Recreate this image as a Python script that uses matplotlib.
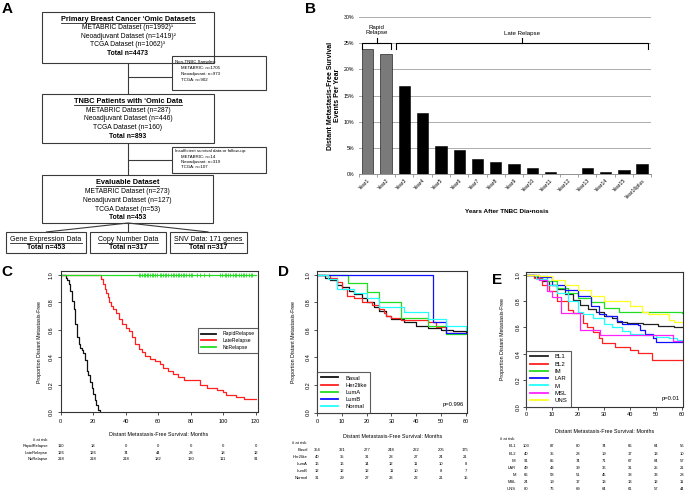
import matplotlib
matplotlib.use("Agg")
import matplotlib.pyplot as plt
from matplotlib.transforms import blended_transform_factory
from matplotlib.ticker import FuncFormatter, FixedLocator

W, H = 685, 491
plt.rcParams['font.family'] = ['Liberation Sans', 'DejaVu Sans']

# ---------------- panel B data
years = ['Year1', 'Year2', 'Year3', 'Year4', 'Year5', 'Year6', 'Year7', 'Year8',
         'Year9', 'Year10', 'Year11', 'Year12', 'Year13', 'Year14', 'Year15', 'Year16plus']
events_pct = [23.8, 22.9, 16.9, 11.7, 5.4, 4.5, 2.8, 2.35, 1.95, 1.15, 0.35, 0.0,
              1.15, 0.4, 0.75, 2.0]
rapid_years = 2

# ---------------- panel C data (time in months, survival)
c_rapid_t = [0, 3, 4, 5, 6, 7, 8, 9, 10, 11, 12, 13, 14, 15, 16, 17, 18, 19, 20, 21, 22, 23, 24]
c_rapid_s = [1.0, 0.98, 0.96, 0.93, 0.88, 0.81, 0.75, 0.64, 0.55, 0.50, 0.47, 0.45, 0.43,
             0.38, 0.30, 0.27, 0.22, 0.18, 0.13, 0.09, 0.05, 0.02, 0.0]
c_late_t = [0, 25, 26, 27, 28, 29, 30, 31, 32, 34, 36, 38, 40, 42, 44, 46, 48, 50, 52, 55,
            58, 61, 63, 66, 69, 72, 76, 86, 90, 96, 100, 102, 108, 113, 120]
c_late_s = [1.0, 0.97, 0.93, 0.90, 0.87, 0.84, 0.80, 0.77, 0.75, 0.72, 0.68, 0.64, 0.61,
            0.59, 0.55, 0.50, 0.46, 0.44, 0.41, 0.39, 0.37, 0.35, 0.32, 0.30, 0.28, 0.26,
            0.235, 0.20, 0.18, 0.16, 0.145, 0.125, 0.11, 0.10, 0.095]
c_none_t = [0, 120]
c_none_s = [1.0, 1.0]
c_none_censor = [48, 49, 50, 51, 52, 53, 54, 55, 56, 57, 58, 59, 61, 62, 63, 64, 65, 66, 68,
                 69, 70, 71, 72, 73, 74, 75, 76, 77, 79, 80, 81, 84, 86, 88, 91, 98, 99, 101,
                 102, 103, 104, 106, 107, 108, 110, 111, 112, 113, 114, 116, 117, 118]
c_groups = ['RapidRelapse', 'LateRelapse', 'NoRelapse']
c_times = [0, 20, 40, 60, 80, 100, 120]
c_risk = {'RapidRelapse': [110, 18, 0, 0, 0, 0, 0],
          'LateRelapse': [126, 126, 74, 44, 28, 18, 12],
          'NoRelapse': [218, 218, 218, 182, 130, 111, 91]}

# ---------------- panel D data
d_groups = ['Basal', 'Her2like', 'LumA', 'LumB', 'Normal']
d_curves = {
    'Basal': ([0, 3, 5, 8, 10, 13, 15, 18, 20, 23, 25, 28, 30, 35, 40, 45, 50, 55, 60],
              [1.0, 0.98, 0.96, 0.93, 0.91, 0.88, 0.86, 0.83, 0.80, 0.77, 0.74, 0.70, 0.68,
               0.655, 0.63, 0.615, 0.60, 0.59, 0.585]),
    'Her2like': ([0, 5, 8, 10, 12, 15, 18, 22, 25, 27, 28, 30, 34, 45, 48, 52, 60],
                 [1.0, 0.975, 0.95, 0.90, 0.85, 0.83, 0.80, 0.78, 0.75, 0.725, 0.70, 0.69,
                  0.675, 0.66, 0.62, 0.575, 0.575]),
    'LumA': ([0, 12.5, 20, 25, 34, 45, 52, 60],
             [1.0, 0.94, 0.875, 0.80, 0.69, 0.63, 0.57, 0.57]),
    'LumB': ([0, 47, 52, 60],
             [1.0, 0.66, 0.58, 0.58]),
    'Normal': ([0, 4.5, 7.8, 15, 20, 25, 35, 45, 52, 60],
               [1.0, 0.97, 0.90, 0.87, 0.83, 0.77, 0.73, 0.68, 0.63, 0.60]),
}
d_times = [0, 10, 20, 30, 40, 50, 60]
d_risk = {'Basal': [354, 321, 277, 248, 222, 205, 175],
          'Her2like': [40, 35, 31, 28, 27, 24, 21],
          'LumA': [16, 16, 14, 12, 11, 10, 8],
          'LumB': [12, 12, 12, 11, 10, 8, 7],
          'Normal': [31, 29, 27, 23, 22, 21, 15]}
d_pval = 'p=0.996'

# ---------------- panel E data
e_groups = ['BL1', 'BL2', 'IM', 'LAR', 'M', 'MSL', 'UNS']
e_curves = {
    'BL1': ([0, 3, 6, 9, 12, 15, 18, 21, 24, 27, 30, 33, 35, 39, 45, 51, 57, 60],
            [1.0, 0.98, 0.95, 0.92, 0.89, 0.85, 0.81, 0.77, 0.74, 0.72, 0.69, 0.67, 0.64,
             0.635, 0.625, 0.61, 0.60, 0.60]),
    'BL2': ([0, 3, 6, 9, 12, 16, 18, 22, 23.4, 26, 28, 29.2, 34.3, 40, 43.3, 48.4, 60],
            [1.0, 0.975, 0.925, 0.875, 0.80, 0.733, 0.707, 0.632, 0.606, 0.568, 0.518, 0.48,
             0.455, 0.43, 0.404, 0.354, 0.354]),
    'IM': ([0, 4, 8, 12, 16, 20, 25, 30, 36, 60],
           [1.0, 0.99, 0.95, 0.90, 0.86, 0.82, 0.79, 0.75, 0.72, 0.71]),
    'LAR': ([0, 5, 10, 15, 20, 25, 28, 31, 35, 37, 43, 44, 46, 49, 50, 60],
            [1.0, 0.98, 0.92, 0.88, 0.84, 0.76, 0.70, 0.69, 0.65, 0.63, 0.62, 0.58, 0.55,
             0.52, 0.49, 0.49]),
    'M': ([0, 4, 8, 12, 16, 20, 22, 26, 30, 33, 37, 40, 45, 50, 55, 58, 60],
          [1.0, 0.97, 0.92, 0.86, 0.80, 0.72, 0.70, 0.67, 0.63, 0.60, 0.57, 0.55, 0.54,
           0.53, 0.52, 0.505, 0.505]),
    'MSL': ([0, 5, 8, 10, 13.5, 20.8, 28.5, 56.8, 60],
            [1.0, 0.96, 0.875, 0.83, 0.707, 0.58, 0.543, 0.50, 0.50]),
    'UNS': ([0, 5, 10, 15, 20, 25, 30, 40, 44.6, 47, 55, 57, 60],
            [1.0, 0.99, 0.96, 0.92, 0.88, 0.84, 0.80, 0.76, 0.72, 0.70, 0.66, 0.644, 0.644]),
}
e_times = [0, 10, 20, 30, 40, 50, 60]
e_risk = {'BL1': [103, 87, 80, 74, 66, 64, 56],
          'BL2': [40, 35, 28, 19, 17, 13, 10],
          'IM': [91, 85, 74, 71, 67, 64, 57],
          'LAR': [49, 43, 39, 36, 31, 25, 21],
          'M': [66, 58, 51, 45, 38, 33, 28],
          'MSL': [24, 19, 17, 13, 13, 12, 11],
          'UNS': [80, 76, 69, 64, 61, 57, 44]}
e_pval = 'p=0.01'

RED, GREEN, BLUE, CYAN, MAG, YEL = '#ff2020', '#22dd22', '#1010ff', '#22ffff', '#ff22ff', '#ffff22'
c_colors = ['#111111', RED, GREEN]
d_colors = ['#111111', RED, GREEN, BLUE, CYAN]
e_colors = ['#222222', RED, GREEN, BLUE, CYAN, MAG, YEL]


fig = plt.figure(figsize=(W / 100, H / 100), dpi=100)
fig.patch.set_facecolor('white')

# overlay in pixel coordinates (flowchart, panel letters)
ov = fig.add_axes([0, 0, 1, 1])
ov.set_xlim(0, W)
ov.set_ylim(H, 0)
ov.axis('off')


def px_axes(x0, y0, x1, y1):
    return fig.add_axes([x0 / W, 1 - y1 / H, (x1 - x0) / W, (y1 - y0) / H])


# ---------------- panel A: flowchart
EDGE = '#3a3a3a'
underlined = []


def box(x0, y0, x1, y1):
    ov.add_patch(plt.Rectangle((x0, y0), x1 - x0, y1 - y0, fill=False,
                               edgecolor=EDGE, lw=0.8))


def line(xs, ys):
    ov.plot(xs, ys, color=EDGE, lw=0.8, solid_capstyle='butt')


def big_box(x0, y0, x1, y1, title, rows, total, ys, fs=4.9):
    box(x0, y0, x1, y1)
    cx = (x0 + x1) / 2
    t = ov.text(cx, ys[0], title, ha='center', va='center', fontsize=fs + 0.4,
                fontweight='bold')
    underlined.append(t)
    for r, y in zip(rows, ys[1:-1]):
        ov.text(cx, y, r, ha='center', va='center', fontsize=fs)
    ov.text(cx, ys[-1], total, ha='center', va='center', fontsize=fs, fontweight='bold')


def note_box(x0, y0, x1, y1, head, rows, ys, fs=3.2):
    box(x0, y0, x1, y1)
    ov.text(x0 + 3, ys[0], head, ha='left', va='center', fontsize=fs)
    for r, y in zip(rows, ys[1:]):
        ov.text(x0 + 9, y, r, ha='left', va='center', fontsize=fs)


big_box(42, 12, 214, 63, 'Primary Breast Cancer \u2018Omic Datasets',
        ['METABRIC Dataset (n=1992)\u00b9', 'Neoadjuvant Dataset (n=1419)\u00b2',
         'TCGA Dataset (n=1062)\u00b3'], 'Total n=4473', [19.5, 27.7, 36, 44.3, 53.3])
note_box(172, 56, 266, 90, 'Non-TNBC Samples:',
         ['METABRIC: n=1705', 'Neoadjuvant: n=973', 'TCGA: n=902'], [61.7, 67.7, 74, 80])
big_box(42, 94, 214, 143, 'TNBC Patients with \u2018Omic Data',
        ['METABRIC Dataset (n=287)', 'Neoadjuvant Dataset (n=446)', 'TCGA Dataset (n=160)'],
        'Total n=893', [101.7, 110.3, 118.7, 127, 136])
note_box(172, 147, 266, 173, 'Insufficient survival data or follow-up:',
         ['METABRIC: n=14', 'Neoadjuvant: n=319', 'TCGA: n=107'], [151, 156.5, 162, 167.5])
big_box(42, 175, 213, 223, 'Evaluable Dataset',
        ['METABRIC Dataset (n=273)', 'Neoadjuvant Dataset (n=127)', 'TCGA Dataset (n=53)'],
        'Total n=453', [182.3, 191.7, 200.7, 209.3, 217.7])
for (x0, x1, head, tot) in [(6, 86, 'Gene Expression Data', 'Total n=453'),
                            (90, 166, 'Copy Number Data', 'Total n=317'),
                            (170, 247, 'SNV Data: 171 genes', 'Total n=317')]:
    box(x0, 232, x1, 253)
    t = ov.text((x0 + x1) / 2, 239, head, ha='center', va='center', fontsize=5.0)
    underlined.append(t)
    ov.text((x0 + x1) / 2, 247.3, tot, ha='center', va='center', fontsize=5.0,
            fontweight='bold')
    line([128, (x0 + x1) / 2], [223, 232])

line([128, 128], [63, 94])
line([128, 172], [77, 77])
line([128, 128], [143, 175])
line([128, 172], [160, 160])

for lab, x, y in [('A', 2, 8.5), ('B', 305, 8.5), ('C', 1, 272), ('D', 278, 272), ('E', 492, 280)]:
    ov.text(x, y, lab, ha='left', va='center', fontsize=11, fontweight='bold')

# ---------------- panel B: bar chart
axB = px_axes(358.6, 17, 651.3, 174)
xpos = list(range(len(years)))
bar_colors = ['#7a7a7a' if i < rapid_years else 'black' for i in xpos]
axB.bar(xpos, events_pct, width=0.62, color=bar_colors, edgecolor='black', linewidth=0.4,
        zorder=3)
axB.set_xlim(-0.5, len(years) - 0.5)
axB.set_ylim(0, 30)
axB.set_yticks(range(0, 31, 5))
axB.yaxis.set_major_formatter(FuncFormatter(lambda v, p: f'{v:.0f}%'))
axB.grid(axis='y', color='#a0a0a0', lw=0.6, zorder=0)
for s in ['left', 'right', 'top']:
    axB.spines[s].set_visible(False)
axB.spines['bottom'].set_color('#909090')
axB.spines['bottom'].set_linewidth(0.7)
axB.tick_params(axis='y', length=0, labelsize=3.8, pad=3)
axB.set_xticks(xpos)
axB.set_xticklabels(years, rotation=45, ha='right', rotation_mode='anchor', fontsize=3.7)
axB.tick_params(axis='x', which='major', length=0, pad=3)
axB.xaxis.set_minor_locator(FixedLocator([i + 0.5 for i in range(-1, len(years))]))
axB.tick_params(axis='x', which='minor', length=2, color='#909090', width=0.6)
axB.set_xlabel('Years After TNBC Dia\u2022nosis', fontsize=4.6, fontweight='bold')
axB.xaxis.set_label_coords(0.505, -(211 - 174) / 157)
axB.xaxis.label.set_va('center')
axB.set_ylabel('Distant Metastasis-Free Survival\nEvents Per Year', fontsize=5.0,
               fontweight='bold', linespacing=1.1)
axB.yaxis.set_label_coords(-(358.6 - 334) / 292.7, 0.5)
axB.yaxis.label.set_va('center')


def bracket(ax, x0, x1, xm, y, text, ty):
    ax.plot([x0, x0, x1, x1], [y - 1.1, y, y, y - 1.1], color='black', lw=0.8,
            clip_on=False, zorder=4)
    ax.plot([xm, xm], [y, y + 1.0], color='black', lw=0.8, clip_on=False, zorder=4)
    ax.text(xm, ty, text, ha='center', va='center', fontsize=4.4, linespacing=1.0)


bracket(axB, -0.33, rapid_years - 1 + 0.25, (rapid_years - 1) / 2, 25,
        'Rapid\nRelapse', 27.6)
bracket(axB, rapid_years - 0.47, len(years) - 1 + 0.3, 8.43, 25, 'Late Relapse', 26.8)


# ---------------- KM panels
def km_panel(rect, xmax, ymax, xticks, groups, curves, colors, risk, times,
             ylab_x, xlab_y, risk_head_x, risk_lab_x, risk_head_y, risk_rows_y,
             leg_kw, leg_fs, pval=None, pval_y=None, tick_pad=2.8):
    x0, y0, x1, y1 = rect
    ax = px_axes(x0, y0, x1, y1)
    for g, c in zip(groups, colors):
        t, s = curves[g]
        ax.step(t, s, where='post', color=c, lw=0.9, label=g)
    ax.set_xlim(0, xmax)
    ax.set_ylim(0, ymax)
    ax.set_xticks(xticks)
    ax.set_yticks([0, 0.2, 0.4, 0.6, 0.8, 1.0])
    ax.set_yticklabels(['0.0', '0.2', '0.4', '0.6', '0.8', '1.0'], rotation=90,
                       va='center')
    ax.tick_params(axis='both', labelsize=4.0, length=2.2, width=0.6, color='#333333',
                   pad=tick_pad)
    for s in ax.spines.values():
        s.set_color('#333333')
        s.set_linewidth(0.8)
    ax.set_ylabel('Proportion Distant Metastasis-Free', fontsize=3.8)
    ax.yaxis.set_label_coords((ylab_x - x0) / (x1 - x0), 0.5)
    ax.yaxis.label.set_va('center')
    ax.set_xlabel('Distant Metastasis-Free Survival: Months', fontsize=3.9)
    ax.xaxis.set_label_coords(0.5, -(xlab_y - y1) / (y1 - y0))
    ax.xaxis.label.set_va('center')
    leg = ax.legend(fontsize=leg_fs, frameon=True, fancybox=False, borderaxespad=0,
                    handlelength=3.0, handletextpad=1.2, labelspacing=0.35,
                    borderpad=0.6, **leg_kw)
    leg.get_frame().set_edgecolor('#333333')
    leg.get_frame().set_linewidth(0.8)
    for h in leg.get_lines():
        h.set_linewidth(1.3)
    if pval:
        ax.text(xmax * 0.98, (y1 - pval_y) / (y1 - y0) * ymax, pval, ha='right',
                va='center', fontsize=4.2)
    tr = blended_transform_factory(ax.transData, ov.transData)
    ov.text(risk_head_x, risk_head_y, '# at risk', ha='left', va='center', fontsize=3.0)
    for g, ry in zip(groups, risk_rows_y):
        ov.text(risk_lab_x, ry, g, ha='right', va='center', fontsize=3.0)
        for tm, n in zip(times, risk[g]):
            ax.text(tm, ry, str(n), ha='center', va='center', fontsize=3.0, transform=tr,
                    clip_on=False)
    return ax


c_curves = {'RapidRelapse': (c_rapid_t, c_rapid_s), 'LateRelapse': (c_late_t, c_late_s),
            'NoRelapse': (c_none_t, c_none_s)}
axC = km_panel((60.7, 271, 257.5, 412.3), 121.1, 1.028, c_times, c_groups, c_curves,
               c_colors, c_risk, c_times, 39, 434, 33, 48, 440, [446.3, 452.7, 459],
               dict(loc='upper right', bbox_to_anchor=(1.0, (412.3 - 328.3) / 141.3)), 3.6)
axC.plot(c_none_censor, [1.0] * len(c_none_censor), ls='none', marker='|', ms=3.0,
         mew=0.6, color=GREEN)

axD = km_panel((317.3, 271, 467, 412.5), 60.6, 1.029, d_times, d_groups, d_curves,
               d_colors, d_risk, d_times, 294, 436.7, 291.7, 307.7, 442.7,
               [450.3, 457, 463.7, 470.7, 477.7],
               dict(loc='lower left', bbox_to_anchor=(0, 0)), 4.2, d_pval, 404.3)

axE = km_panel((526, 272, 683, 406.7), 60.5, 1.02, e_times, e_groups, e_curves,
               e_colors, e_risk, e_times, 502.5, 431.7, 500, 516, 439.3,
               [446.3, 453.7, 460.7, 467.7, 474.7, 482, 489],
               dict(loc='lower left', bbox_to_anchor=(0, 0)), 4.3, e_pval, 398.3,
               tick_pad=1.5)

# underline the headings of the flowchart boxes
fig.canvas.draw()
inv = ov.transData.inverted()
for t in underlined:
    bb = t.get_window_extent()
    (ux0, uy0), (ux1, _) = inv.transform([(bb.x0, bb.y0), (bb.x1, bb.y1)])
    ov.plot([ux0, ux1], [uy0 + 0.2, uy0 + 0.2], color='#222222', lw=0.6)

fig.savefig('out.png', dpi=100, facecolor='white')
